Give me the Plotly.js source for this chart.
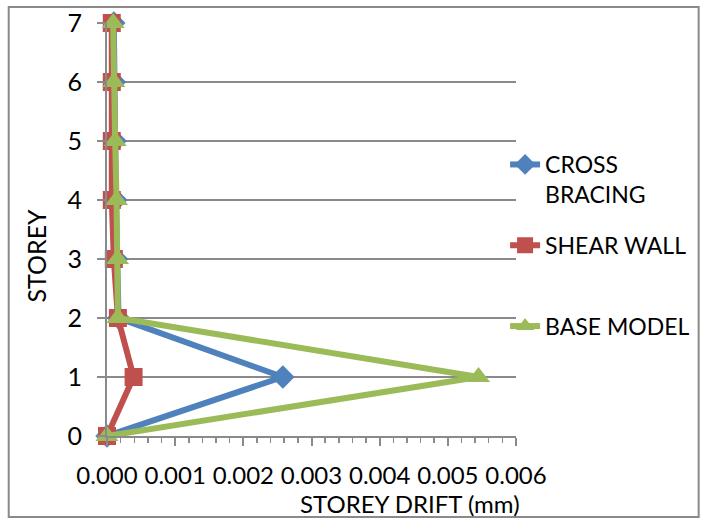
<!DOCTYPE html>
<html>
<head>
<meta charset="utf-8">
<script src="https://cdn.plot.ly/plotly-3.0.1.min.js"></script>
<style>html,body{margin:0;padding:0;background:#fff;}#chart{width:707px;height:520px;}</style>
</head>
<body>
<div id="chart"></div>
<script>
const storeys = [0, 1, 2, 3, 4, 5, 6, 7];
const crossBracing = [0, 0.00258, 0.00017, 0.00014, 0.00013, 0.00012, 0.00011, 0.0001];
const shearWall = [0, 0.00039, 0.00016, 0.0001, 0.00007, 0.00007, 0.00007, 0.00007];
const baseModel = [0, 0.00545, 0.00016, 0.000155, 0.00014, 0.00012, 0.0001, 0.00009];
const seriesNames = ['CROSS<br>BRACING', 'SHEAR WALL<br> ', 'BASE MODEL'];
const xTicks = [0, 0.001, 0.002, 0.003, 0.004, 0.005, 0.006];
const xTickText = ['0.000', '0.001', '0.002', '0.003', '0.004', '0.005', '0.006'];
const yTicks = [0, 1, 2, 3, 4, 5, 6, 7];

const FONT = 'Lato, "Open Sans", sans-serif';
const L = 107, R = 519, T = 23, B = 436;
const W = 707, H = 520;
const pw = R - L, ph = B - T;
const px = v => (v - L) / pw;
const py = v => (B - v) / ph;

const mk = (x, name, color, symbol, size, grp) => ({
  x: x, y: storeys, name: name, type: 'scatter', mode: 'lines+markers',
  line: {color: color, width: 6},
  marker: {color: color, symbol: symbol, size: size},
  cliponaxis: false, legendgroup: grp
});

const data = [
  mk(crossBracing, seriesNames[0], '#4F81BD', 'diamond', 18, 'a'),
  mk(shearWall, seriesNames[1], '#C0504D', 'square', 18, 'b'),
  mk(baseModel, seriesNames[2], '#9BBB59', 'triangle-up', 20, 'c')
];

const layout = {
  width: W, height: H,
  margin: {l: L, r: W - R, t: T, b: H - B},
  paper_bgcolor: '#fff', plot_bgcolor: '#fff',
  font: {family: FONT, size: 24, color: '#000'},
  showlegend: true,
  legend: {
    x: px(508), y: py(143), xanchor: 'left', yanchor: 'top',
    font: {family: FONT, size: 23, color: '#000'},
    traceorder: 'grouped', tracegroupgap: 18, valign: 'top',
    bgcolor: 'rgba(0,0,0,0)'
  },
  xaxis: {
    range: [0, 0.006], tickvals: xTicks, ticktext: xTickText,
    showgrid: false, zeroline: false,
    showline: true, linecolor: '#8a8a8a', linewidth: 2,
    ticks: 'outside', ticklen: 8, tickwidth: 2, tickcolor: '#8a8a8a',
    minor: {dtick: 0.0002, ticks: 'outside', ticklen: 5, tickwidth: 1.5, tickcolor: '#8a8a8a'},
    ticklabelstandoff: 9,
    tickfont: {family: FONT, size: 24, color: '#000'},
    fixedrange: true
  },
  yaxis: {
    range: [0, 7], tickvals: yTicks,
    showgrid: true, gridcolor: '#8a8a8a', gridwidth: 2,
    zeroline: false,
    showline: true, linecolor: '#8a8a8a', linewidth: 2,
    ticks: 'outside', ticklen: 8, tickwidth: 2, tickcolor: '#8a8a8a',
    ticklabelstandoff: 10,
    tickfont: {family: FONT, size: 25, color: '#000'},
    fixedrange: true
  },
  annotations: [
    {text: 'STOREY DRIFT (mm)', xref: 'paper', yref: 'paper', x: px(412), y: py(520),
     xanchor: 'center', yanchor: 'bottom', showarrow: false,
     font: {family: FONT, size: 24, color: '#000'}},
    {text: 'STOREY', xref: 'paper', yref: 'paper', x: px(35), y: py(256),
     xanchor: 'center', yanchor: 'middle', showarrow: false, textangle: -90,
     font: {family: FONT, size: 25, color: '#000'}}
  ],
  shapes: [
    {type: 'rect', xref: 'paper', yref: 'paper', x0: px(8), x1: px(703), y0: py(517), y1: py(7),
     line: {color: '#8a8a8a', width: 2}, fillcolor: 'rgba(0,0,0,0)', layer: 'below'}
  ]
};

Plotly.newPlot('chart', data, layout, {displayModeBar: false, staticPlot: true});
</script>
</body>
</html>
